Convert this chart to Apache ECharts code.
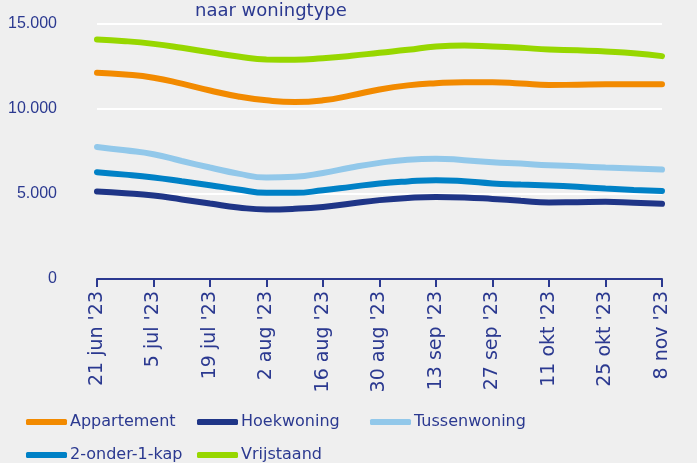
<!DOCTYPE html>
<html>
<head>
<meta charset="utf-8">
<script src="https://cdn.jsdelivr.net/npm/echarts@6/dist/echarts.min.js"></script>
<style>
html,body{margin:0;padding:0;background:#efefef;}
#chart{width:697px;height:463px;}
</style>
</head>
<body>
<div id="chart"></div>
<script>
// weken, alleen om de week een label
var weken=["21 jun '23","28 jun '23","5 jul '23","12 jul '23","19 jul '23","26 jul '23","2 aug '23","9 aug '23","16 aug '23","23 aug '23","30 aug '23","6 sep '23","13 sep '23","20 sep '23","27 sep '23","4 okt '23","11 okt '23","18 okt '23","25 okt '23","1 nov '23","8 nov '23"];
var appartement=[12130,12030,11840,11490,11090,10740,10510,10410,10510,10800,11150,11390,11520,11580,11580,11500,11410,11430,11450,11450,11450];
var hoekwoning=[5150,5050,4910,4680,4440,4210,4090,4130,4240,4440,4640,4770,4830,4800,4710,4600,4500,4520,4540,4480,4420];
var tussenwoning=[7770,7570,7340,6940,6560,6200,5970,6010,6240,6560,6830,7020,7080,6990,6870,6790,6690,6630,6560,6500,6440];
var onderEenKap=[6280,6140,5970,5750,5520,5270,5070,5070,5220,5420,5620,5740,5810,5750,5620,5560,5500,5420,5320,5240,5180];
var vrijstaand=[14090,13990,13830,13600,13340,13090,12910,12900,12990,13130,13310,13480,13680,13740,13680,13600,13500,13460,13380,13280,13110];
var yTicks=[0,5000,10000,15000];

var tekstKleur="#2b3990";
var lettertype="'DejaVu Sans', sans-serif";

function lijn(naam,data,kleur,z){
	return {
		name:naam,
		type:'line',
		data:data,
		smooth:true,
		showSymbol:false,
		z:z,
		lineStyle:{color:kleur,width:6,cap:'round'},
		itemStyle:{color:kleur}
	};
}
function legenda(naam,links,boven){
	return {
		data:[naam],
		left:links,
		top:boven,
		icon:'roundRect',
		itemWidth:41,
		itemHeight:6,
		itemGap:0,
		padding:0,
		textStyle:{color:tekstKleur,fontSize:16,fontFamily:lettertype,padding:[0,0,0,-2]}
	};
}

var myChart=echarts.init(document.getElementById("chart"));
var option={
	backgroundColor:'#efefef',
	animation:false,
	title:{
		text:'naar woningtype',
		left:190,
		top:-3,
		textStyle:{color:tekstKleur,fontSize:18,fontWeight:'normal',fontFamily:lettertype}
	},
	grid:{left:97,right:35,top:24,bottom:184,containLabel:false},
	legend:[
		legenda('Appartement',26,414),
		legenda('Hoekwoning',197,414),
		legenda('Tussenwoning',370,414),
		legenda('2-onder-1-kap',26,447),
		legenda('Vrijstaand',197,447)
	],
	xAxis:{
		type:'category',
		data:weken,
		boundaryGap:false,
		axisLine:{lineStyle:{color:tekstKleur,width:2}},
		axisTick:{interval:1,length:8,lineStyle:{color:tekstKleur,width:2}},
		axisLabel:{interval:1,rotate:90,color:tekstKleur,fontSize:19,fontFamily:lettertype,margin:12},
		splitLine:{show:false}
	},
	yAxis:{
		type:'value',
		min:yTicks[0],
		max:yTicks[yTicks.length-1],
		interval:5000,
		axisLine:{show:false},
		axisTick:{show:false},
		axisLabel:{
			color:tekstKleur,fontSize:16,fontFamily:"'Liberation Sans', sans-serif",margin:40,
			formatter:function(v){return v===0?'0':(v/1000).toFixed(3);}
		},
		splitLine:{lineStyle:{color:'#ffffff',width:2}}
	},
	series:[
		lijn('Appartement',appartement,'#f28a00',5),
		lijn('Hoekwoning',hoekwoning,'#1f3587',5),
		lijn('Tussenwoning',tussenwoning,'#92c8ea',4),
		lijn('2-onder-1-kap',onderEenKap,'#0081c6',5),
		lijn('Vrijstaand',vrijstaand,'#97d700',5)
	]
};
myChart.setOption(option);
</script>
</body>
</html>
